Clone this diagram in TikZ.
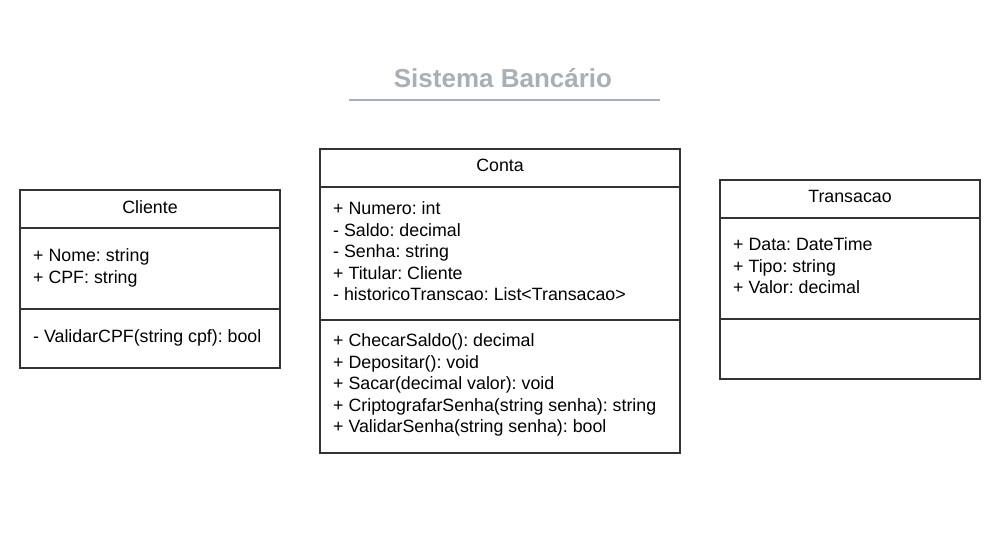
\documentclass[tikz,border=0pt]{standalone}
\usepackage{fontspec}
\setmainfont{Liberation Sans}
\definecolor{lc}{HTML}{333333}
\definecolor{tc}{HTML}{A9AFB7}
\begin{document}
\frenchspacing
\begin{tikzpicture}[x=1pt,y=-1pt,
  box/.style={draw=lc,line width=1.6pt,rectangle,inner sep=0pt,outer sep=0pt,anchor=north west},
  sep/.style={draw=lc,line width=1.6pt},
  txt/.style={anchor=base west,inner sep=0pt,font=\fontsize{17.8}{21}\selectfont},
  ttl/.style={anchor=base,inner sep=0pt,font=\fontsize{17.8}{21}\selectfont}]
\useasboundingbox[fill=white] (0,0) rectangle (999,547);
% title
\node[anchor=base,inner sep=0pt,text=tc,font=\fontsize{26}{30}\bfseries\selectfont] (title) at (503,87) {Sistema Bancário};
\coordinate (ul1) at (349,100);
\coordinate (ul2) at (660,100);
\draw[tc,line width=2pt] (ul1) -- (ul2);
% Cliente
\node[box,minimum width=260pt,minimum height=178pt] (cli) at (20,190) {};
\draw[sep] (cli.west |- 0,228) -- (cli.east |- 0,228);
\draw[sep] (cli.west |- 0,309) -- (cli.east |- 0,309);
\node[ttl] (clit) at (150,213.5) {Cliente};
\node[txt] (cli1) at (33,261.5) {+ Nome: string};
\node[txt] (cli2) at (33,283) {+ CPF: string};
\node[txt] (cli3) at (33,342.5) {- ValidarCPF(string cpf): bool};
% Conta
\node[box,minimum width=360pt,minimum height=304pt] (con) at (320,149) {};
\draw[sep] (con.west |- 0,187) -- (con.east |- 0,187);
\draw[sep] (con.west |- 0,320) -- (con.east |- 0,320);
\node[ttl] (cont) at (500,171.5) {Conta};
\node[txt] (con1) at (333,214.5) {+ Numero: int};
\node[txt] (con2) at (333,236) {- Saldo: decimal};
\node[txt] (con3) at (333,257.5) {- Senha: string};
\node[txt] (con4) at (333,279) {+ Titular: Cliente};
\node[txt] (con5) at (333,300.5) {- historicoTranscao: List<Transacao>};
\node[txt] (con6) at (333,346.5) {+ ChecarSaldo(): decimal};
\node[txt] (con7) at (333,368) {+ Depositar(): void};
\node[txt] (con8) at (333,389.5) {+ Sacar(decimal valor): void};
\node[txt] (con9) at (333,411) {+ CriptografarSenha(string senha): string};
\node[txt] (con10) at (333,432.5) {+ ValidarSenha(string senha): bool};
% Transacao
\node[box,minimum width=260pt,minimum height=199pt] (tra) at (720,180) {};
\draw[sep] (tra.west |- 0,218) -- (tra.east |- 0,218);
\draw[sep] (tra.west |- 0,319) -- (tra.east |- 0,319);
\node[ttl] (trat) at (850,202.5) {Transacao};
\node[txt] (tra1) at (733,250.5) {+ Data: DateTime};
\node[txt] (tra2) at (733,272) {+ Tipo: string};
\node[txt] (tra3) at (733,293.5) {+ Valor: decimal};
\end{tikzpicture}
\end{document}
